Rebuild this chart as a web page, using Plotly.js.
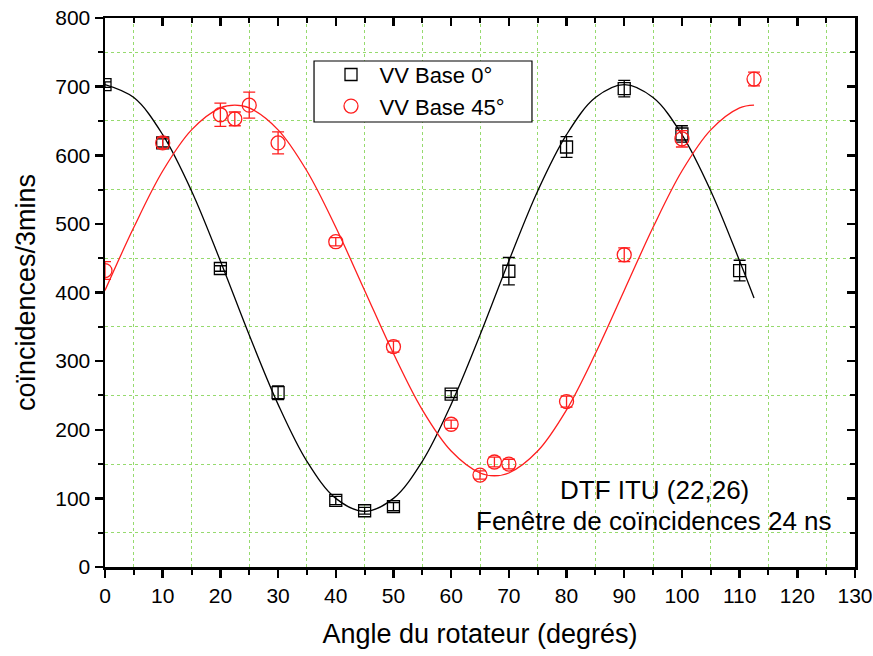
<!DOCTYPE html>
<html>
<head>
<meta charset="utf-8">
<script src="https://cdn.plot.ly/plotly-3.0.1.min.js"></script>
<style>html,body{margin:0;padding:0;background:#fff;}#chart{width:873px;height:656px;}</style>
</head>
<body>
<div id="chart"></div>
<script>
// Measured points: VV Base 0°
const angle0 = [0, 10, 20, 30, 40, 45, 50, 60, 70, 80, 90, 100, 110];
const counts0 = [703, 618, 435, 254, 97, 82, 88, 252, 431, 612, 697, 631, 432];
const err0 = [4, 6, 4, 10, 6, 5, 6, 5, 20, 15, 12, 12, 15];

// Measured points: VV Base 45°
const angle45 = [0, 10, 20, 22.5, 25, 30, 40, 50, 60, 65, 67.5, 70, 80, 90, 100, 112.5];
const counts45 = [432, 618, 659, 653, 673, 618, 474, 321, 208, 134, 153, 150, 241, 455, 624, 711];
const err45 = [13, 8, 17, 10, 19, 16, 6, 8, 6, 6, 7, 7, 8, 10, 12, 10];

// Fit curves
const fitAngle0 = [0, 5, 10, 15, 20, 25, 30, 35, 40, 45, 50, 55, 60, 65, 70, 75, 80, 85, 90, 95, 100, 105, 110, 112.5];
const fitCounts0 = [703, 684, 630, 548, 446, 338, 237, 154, 100, 81, 100, 154, 237, 338, 446, 548, 630, 684, 703, 684, 630, 548, 446, 392];
const fitAngle45 = [0, 5, 10, 15, 20, 22.5, 25, 30, 35, 40, 45, 50, 55, 60, 65, 67.5, 70, 75, 80, 85, 90, 95, 100, 105, 110, 112.5];
const fitCounts45 = [403, 495, 577, 637, 669, 673, 669, 637, 577, 495, 403, 311, 229, 169, 137, 133, 137, 169, 229, 311, 403, 495, 577, 637, 669, 673];

const seriesNames = ['VV Base 0°', 'VV Base 45°'];
const noteLines = ['DTF ITU (22,26)', 'Fenêtre de coïncidences 24 ns'];

const FONT = 'Liberation Sans, Arial, sans-serif';
const GRID = 'rgb(150,218,110)';

const traces = [
  {x: fitAngle0, y: fitCounts0, mode: 'lines', line: {color: 'black', width: 1.3, shape: 'spline'}, showlegend: false, hoverinfo: 'skip'},
  {x: fitAngle45, y: fitCounts45, mode: 'lines', line: {color: 'rgb(255,30,30)', width: 1.3, shape: 'spline'}, showlegend: false, hoverinfo: 'skip'},
  {x: angle0, y: counts0, name: seriesNames[0], mode: 'markers',
   marker: {symbol: 'square-open', size: 12, color: 'black', line: {width: 1.3}},
   error_y: {type: 'data', array: err0, visible: true, color: 'black', thickness: 1.3, width: 6}},
  {x: angle45, y: counts45, name: seriesNames[1], mode: 'markers',
   marker: {symbol: 'circle-open', size: 14, color: 'rgb(255,30,30)', line: {width: 1.3}},
   error_y: {type: 'data', array: err45, visible: true, color: 'rgb(255,30,30)', thickness: 1.3, width: 6}},
  {x: [null], y: [null], xaxis: 'x2', yaxis: 'y2', mode: 'markers', showlegend: false, hoverinfo: 'skip'}
];

const layout = {
  width: 873, height: 656,
  margin: {l: 105, r: 18, t: 18, b: 89},
  paper_bgcolor: 'white', plot_bgcolor: 'white',
  font: {family: FONT, size: 21, color: 'black'},
  showlegend: true,
  legend: {x: 0.29, y: 0.935, xanchor: 'left', yanchor: 'top', borderwidth: 0,
           bgcolor: 'rgba(0,0,0,0)', font: {family: FONT, size: 22}, itemwidth: 47, tracegroupgap: 0},
  shapes: [{type: 'rect', xref: 'paper', yref: 'paper', x0: 0.2787, x1: 0.5693, y0: 0.8106, y1: 0.9217,
            line: {color: 'black', width: 1.2}, fillcolor: 'white', layer: 'above'}],
  xaxis: {
    range: [0, 130], dtick: 10, tick0: 0, showgrid: false, zeroline: false,
    showline: true, linecolor: 'black', linewidth: 2.5,
    ticks: 'outside', ticklen: 8, tickwidth: 2.5, tickcolor: 'black',
    tickfont: {family: FONT, size: 21},
    minor: {dtick: 10, tick0: 5, ticks: 'outside', ticklen: 5, tickwidth: 2, tickcolor: 'black',
            showgrid: true, gridcolor: GRID, griddash: 'dot', gridwidth: 1},
    title: {text: 'Angle du rotateur (degrés)', font: {family: FONT, size: 27}, standoff: 19}
  },
  yaxis: {
    range: [0, 800], dtick: 100, tick0: 0, showgrid: false, zeroline: false,
    showline: true, linecolor: 'black', linewidth: 2.5,
    ticks: 'outside', ticklen: 8, tickwidth: 2.5, tickcolor: 'black',
    tickfont: {family: FONT, size: 21},
    minor: {dtick: 100, tick0: 50, ticks: 'outside', ticklen: 5, tickwidth: 2, tickcolor: 'black',
            showgrid: true, gridcolor: GRID, griddash: 'dot', gridwidth: 1},
    title: {text: 'coïncidences/3mins', font: {family: FONT, size: 27}, standoff: 12}
  },
  xaxis2: {
    overlaying: 'x', side: 'top', anchor: 'y2', range: [0, 130], dtick: 10, tick0: 0,
    showgrid: false, zeroline: false, showticklabels: false,
    showline: true, linecolor: 'black', linewidth: 2.5,
    ticks: 'inside', ticklen: 8, tickwidth: 2.5, tickcolor: 'black',
    minor: {dtick: 10, tick0: 5, ticks: 'inside', ticklen: 5, tickwidth: 2, tickcolor: 'black', showgrid: false}
  },
  yaxis2: {
    overlaying: 'y', side: 'right', anchor: 'x2', range: [0, 800], dtick: 100, tick0: 0,
    showgrid: false, zeroline: false, showticklabels: false,
    showline: true, linecolor: 'black', linewidth: 2.5,
    ticks: 'inside', ticklen: 8, tickwidth: 2.5, tickcolor: 'black',
    minor: {dtick: 100, tick0: 50, ticks: 'inside', ticklen: 5, tickwidth: 2, tickcolor: 'black', showgrid: false}
  },
  annotations: [
    {x: 95.2, y: 112, xref: 'x', yref: 'y', text: noteLines[0], showarrow: false,
     font: {family: FONT, size: 26, color: 'black'}},
    {x: 95.2, y: 67, xref: 'x', yref: 'y', text: noteLines[1], showarrow: false,
     font: {family: FONT, size: 26, color: 'black'}}
  ]
};

Plotly.newPlot('chart', traces, layout, {displayModeBar: false, staticPlot: true});
</script>
</body>
</html>
